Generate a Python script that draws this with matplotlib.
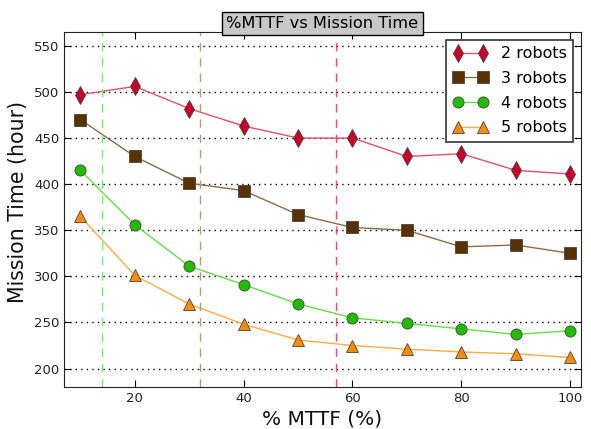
#!/usr/bin/env python3

import numpy as np
import matplotlib
matplotlib.use('Agg')
import matplotlib.pyplot as plt

mttf = [10, 20, 30, 40, 50, 60, 70, 80, 90, 100]
robots2 = [497, 506, 482, 463, 450, 450, 430, 433, 415, 411]
robots3 = [470, 430, 401, 393, 367, 353, 350, 332, 334, 325]
robots4 = [415, 356, 311, 291, 270, 255, 249, 243, 237, 241]
robots5 = [365, 301, 270, 248, 231, 225, 221, 218, 216, 212]
labels = ['2 robots', '3 robots', '4 robots', '5 robots']
vlines = [14, 32, 57]

fig = plt.figure(figsize=(5.91, 4.29), dpi=100)
ax = fig.add_axes([64 / 591, 1 - 387 / 429, 517 / 591, 355 / 429])

styles = [
    ('d', '#c8002a', '#e0506a', 9),
    ('s', '#5a3200', '#8b6c45', 8),
    ('o', '#22bb00', '#66dd44', 8),
    ('^', '#ff8c00', '#ffaa44', 8),
]
series = [robots2, robots3, robots4, robots5]

for (mk, fc, lc, ms), ys, lab in zip(styles, series, labels):
    ax.plot(mttf, ys, color=lc, lw=1, marker=mk, markersize=ms,
            markerfacecolor=fc, markeredgecolor='#444444',
            markeredgewidth=0.6, label=lab)

# vertical dashed markers
for x, c in zip(vlines, ['#88dd88', '#b09a80', '#e05070']):
    ax.axvline(x, color=c, ls=(0, (6, 5)), lw=1)

ax.set_xlim(7, 102)
ax.set_ylim(180, 565)
ax.set_xticks([20, 40, 60, 80, 100])
ax.set_yticks(np.arange(200, 551, 50))
ax.yaxis.grid(True, color='black', ls=(0, (1, 3)), lw=1)
ax.tick_params(direction='in', top=True, right=True, labelsize=9.5, length=5,
               labelcolor='#222222')
for s in ax.spines.values():
    s.set_color('#222222')

ax.set_xlabel('% MTTF (%)', fontsize=14.5, labelpad=3, color='#111111')
ax.set_ylabel('Mission Time (hour)', fontsize=14.8, color='#111111')
ax.yaxis.set_label_coords(-0.069, 0.52)
ax.set_title('%MTTF vs Mission Time', fontsize=11.7, pad=3,
             bbox=dict(facecolor='#c8c8c8', edgecolor='black', pad=3))

leg = ax.legend(loc='upper right', numpoints=2, fontsize=11.5, fancybox=False,
                framealpha=1, borderaxespad=0.5, handlelength=2.2,
                labelspacing=0.6)
leg.get_frame().set_edgecolor('#333333')
leg.get_frame().set_linewidth(1.2)

fig.savefig('out.png', dpi=100)
